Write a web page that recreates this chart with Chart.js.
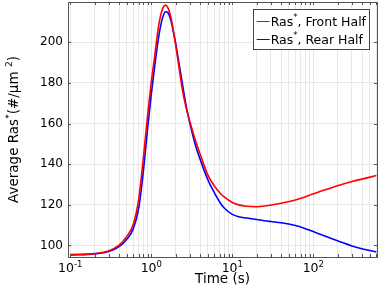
<!DOCTYPE html>
<html>
<head>
<meta charset="utf-8">
<script src="https://cdn.jsdelivr.net/npm/chart.js@4.4.0/dist/chart.umd.min.js"></script>
<style>
  html, body { margin: 0; padding: 0; background: #fff; }
</style>
</head>
<body>
<canvas id="myChart" width="382" height="286"></canvas>
<script>
'use strict';

// data
let timeFront = [0.1,0.2,0.3,0.4,0.5,0.6,0.7,0.8,0.9,1.0,1.1,1.2,1.3,1.4,1.5,1.6,1.7,1.8,1.9,2.0,2.2,2.4,2.7,3.0,3.5,4,5,6,7,8,10,12,15,20,25,30,40,60,80,110,150,214,300,420,600];
let rasFront  = [95.5,96.0,97.4,100.2,104.6,110.5,123,143.5,164,180.5,193,205,213,217.2,218.3,217.1,214.1,209.7,204.2,198.5,187.5,177.5,167.5,160.8,151.8,145,134.6,129.3,126,123.8,121.2,120,119.3,119.1,119.4,119.9,120.8,122.4,124,126,127.8,129.8,131.5,132.9,134.4];

let timeRear = [0.1,0.2,0.3,0.4,0.5,0.6,0.7,0.8,0.9,1.0,1.1,1.2,1.3,1.4,1.5,1.6,1.7,1.8,1.9,2.0,2.2,2.4,2.7,3.0,3.5,4,5,6,7,8,10,12,15,20,25,30,40,60,80,110,150,214,300,420,600];
let rasRear  = [95.4,95.9,97.0,99.4,103.2,108.3,118.5,137,157.5,174.5,188,199.5,207.8,212.9,215,214.6,212.3,208.5,203.8,199.5,189.5,180.5,168.5,160,149.5,142.5,132.3,126,121.3,118.3,115.3,114.1,113.5,112.8,112.2,111.8,111.2,109.8,108.3,106.2,104.2,101.9,99.8,98.2,96.8];

let seriesNames = ['Ras*, Front Half', 'Ras*, Rear Half'];
let seriesColors = ['#ff0000', '#0000ff'];

let xGridValues = [0.1,0.2,0.3,0.4,0.5,0.6,0.7,0.8,0.9,1,2,3,4,5,6,7,8,9,10,20,30,40,50,60,70,80,90,100,200,300,400,500,600];
let xMajorValues = [0.1, 1, 10, 100];
let xTickBase = '10';
let xTickExp = ['-1', '0', '1', '2'];
let yTickValues = [100, 120, 140, 160, 180, 200];

let xMin = 0.0937, xMax = 611;
let yMin = 94.34, yMax = 219.83;

let fontFam = "'DejaVu Sans', sans-serif";
let frameColor = '#555';
let gridColor = '#e8e8e8';

function toPoints(xs, ys) {
    let pts = [];
    for (let i = 0; i < xs.length; i++) {
        pts.push({x: xs[i], y: ys[i]});
    }
    return pts;
}

// text with superscripts: segs = [[text, isSup], ...]
function richWidth(ctx, segs, size) {
    let w = 0;
    segs.forEach(s => {
        ctx.font = (s[1] ? size * 0.68 : size) + 'px ' + fontFam;
        w += ctx.measureText(s[0]).width;
    });
    return w;
}
function drawRich(ctx, segs, x, y, size) {
    segs.forEach(s => {
        let sz = s[1] ? size * 0.68 : size;
        ctx.font = sz + 'px ' + fontFam;
        ctx.fillText(s[0], x, s[1] ? y - size * 0.42 : y);
        x += ctx.measureText(s[0]).width;
    });
}
function labelSegs(label) {
    let p = label.split('*');
    return [[p[0], 0], ['*', 1], [p[1], 0]];
}

const decor = {
    id: 'decor',
    afterDraw(chart) {
        let ctx = chart.ctx;
        let a = chart.chartArea;
        let xs = chart.scales.x, ys = chart.scales.y;
        ctx.save();

        // inward tick marks
        ctx.strokeStyle = frameColor;
        ctx.lineWidth = 1;
        ctx.beginPath();
        xGridValues.forEach(v => {
            let px = Math.round(xs.getPixelForValue(v)) + 0.5;
            ctx.moveTo(px, a.bottom); ctx.lineTo(px, a.bottom - 3);
            ctx.moveTo(px, a.top); ctx.lineTo(px, a.top + 3);
        });
        yTickValues.forEach(v => {
            let py = Math.round(ys.getPixelForValue(v)) + 0.5;
            ctx.moveTo(a.left, py); ctx.lineTo(a.left + 3, py);
            ctx.moveTo(a.right, py); ctx.lineTo(a.right - 3, py);
        });
        ctx.stroke();
        ctx.strokeRect(a.left + 0.5, a.top + 0.5, a.right - a.left, a.bottom - a.top);

        // x tick labels 10^n
        ctx.fillStyle = '#000';
        ctx.textBaseline = 'alphabetic';
        ctx.textAlign = 'left';
        xMajorValues.forEach((v, i) => {
            let segs = [[xTickBase, 0], [xTickExp[i], 1]];
            let w = richWidth(ctx, segs, 12.5);
            drawRich(ctx, segs, xs.getPixelForValue(v) - w / 2, a.bottom + 15, 12.5);
        });

        // x title
        let xt = [['Time (s)', 0]];
        let xw = richWidth(ctx, xt, 13.5);
        drawRich(ctx, xt, (a.left + a.right) / 2 - xw / 2, a.bottom + 26, 13.5);

        // y title
        let yt = [['Average Ras', 0], ['*', 1], ['(#/µm ', 0], ['2', 1], [')', 0]];
        ctx.save();
        ctx.translate(17.5, (a.top + a.bottom) / 2);
        ctx.rotate(-Math.PI / 2);
        let yw = richWidth(ctx, yt, 13.5);
        drawRich(ctx, yt, -yw / 2, 0, 13.5);
        ctx.restore();

        // legend
        let sets = chart.data.datasets;
        let tw = 0;
        sets.forEach(d => { tw = Math.max(tw, richWidth(ctx, labelSegs(d.label), 12.5)); });
        let bw = 4 + 13 + 1 + tw + 3;
        let bx = a.right - 8 - bw, by = a.top + 7, bh = 40;
        ctx.fillStyle = '#fff';
        ctx.fillRect(Math.round(bx) + 0.5, by + 0.5, Math.round(bw), bh);
        ctx.strokeStyle = '#444';
        ctx.strokeRect(Math.round(bx) + 0.5, by + 0.5, Math.round(bw), bh);
        sets.forEach((d, i) => {
            let cy = a.top + 19 + i * 18;
            ctx.strokeStyle = d.borderColor;
            ctx.beginPath();
            ctx.moveTo(bx + 4, cy + 0.5);
            ctx.lineTo(bx + 17, cy + 0.5);
            ctx.stroke();
            ctx.fillStyle = '#000';
            drawRich(ctx, labelSegs(d.label), bx + 18, cy + 4.5, 12.5);
        });
        ctx.restore();
    }
};

let ctx = document.getElementById('myChart').getContext('2d');
let myChart = new Chart(ctx, {
    type: 'line',
    data: {
        datasets: [{
            label: seriesNames[0],
            data: toPoints(timeFront, rasFront),
            borderColor: seriesColors[0],
            borderWidth: 1.6,
            pointRadius: 0,
            fill: false,
            cubicInterpolationMode: 'monotone'
        }, {
            label: seriesNames[1],
            data: toPoints(timeRear, rasRear),
            borderColor: seriesColors[1],
            borderWidth: 1.6,
            pointRadius: 0,
            fill: false,
            cubicInterpolationMode: 'monotone'
        }]
    },
    options: {
        responsive: false,
        animation: false,
        devicePixelRatio: 1,
        layout: { padding: { left: 0, top: 2, right: 5, bottom: 0 } },
        plugins: { legend: { display: false }, tooltip: { enabled: false } },
        scales: {
            x: {
                type: 'logarithmic',
                min: xMin,
                max: xMax,
                afterBuildTicks: s => { s.ticks = xGridValues.map(v => ({value: v})); },
                afterFit: s => { s.height = 29; s.paddingLeft = 0; s.paddingRight = 0; },
                ticks: { display: false },
                grid: { color: gridColor, drawTicks: false },
                border: { display: false }
            },
            y: {
                type: 'linear',
                min: yMin,
                max: yMax,
                afterBuildTicks: s => { s.ticks = yTickValues.map(v => ({value: v})); },
                afterFit: s => { s.width = 68; s.paddingTop = 0; s.paddingBottom = 0; },
                ticks: {
                    color: '#000',
                    padding: 5,
                    font: { family: fontFam, size: 12 },
                    callback: v => String(v)
                },
                grid: { color: gridColor, drawTicks: false },
                border: { display: false }
            }
        }
    },
    plugins: [decor]
});
</script>
</body>
</html>
